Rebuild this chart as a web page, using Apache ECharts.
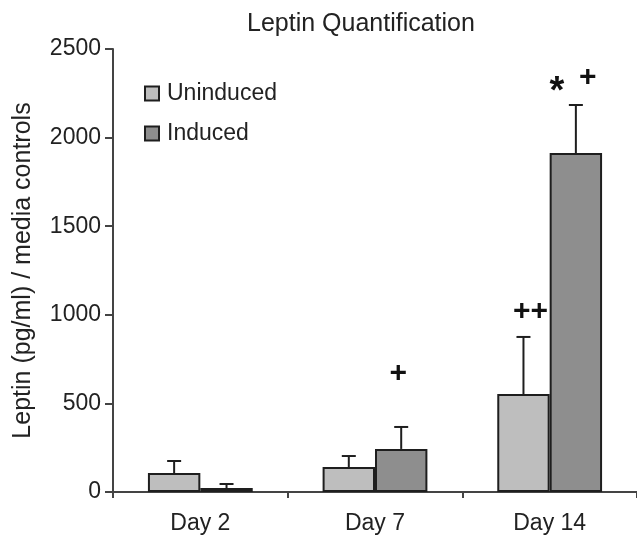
<!DOCTYPE html>
<html>
<head>
<meta charset="utf-8">
<script src="https://cdn.jsdelivr.net/npm/echarts@6/dist/echarts.min.js"></script>
<style>
  html, body { margin: 0; padding: 0; background: #fff; }
  #chart { width: 637px; height: 537px; }
</style>
</head>
<body>
<div id="chart"></div>
<script>
// data
var days = ['Day 2', 'Day 7', 'Day 14'];
var seriesNames = ['Uninduced', 'Induced'];
var uninduced = [107, 141, 553];
var induced = [22, 243, 1913];
var uninducedErr = [175, 203, 875];   // top of error bar
var inducedErr = [45, 367, 2184];
var yTicks = [0, 500, 1000, 1500, 2000, 2500];

// significance marks: text, day index, series index, value height
var markText = ['+', '++', '*', '+'];
var markDay = [1, 2, 2, 2];
var markSeries = [1, 0, 1, 1];
var markValue = [667, 1017, 2255, 2338];
var markNudge = [-3, 7, -19, 12]; // px, horizontal

var FONT = '"Liberation Sans", Arial, sans-serif';
var barW = 0.3; // fraction of category width

var errData = [];
for (var i = 0; i < days.length; i++) {
    errData.push([i, 0, uninduced[i], uninducedErr[i]]);
    errData.push([i, 1, induced[i], inducedErr[i]]);
}
var markData = [];
for (var j = 0; j < markText.length; j++) {
    markData.push([markDay[j], markSeries[j], markValue[j]]);
}

var chart = echarts.init(document.getElementById('chart'));
var option = {
    animation: false,
    backgroundColor: '#fff',
    title: {
        text: 'Leptin Quantification',
        left: 242,
        top: 7,
        textStyle: { fontFamily: FONT, fontSize: 25, fontWeight: 'normal', color: '#222' }
    },
    legend: {
        orient: 'vertical',
        left: 139,
        top: 77,
        itemWidth: 14,
        itemHeight: 14,
        itemGap: 17,
        icon: 'rect',
        data: seriesNames,
        textStyle: { fontFamily: FONT, fontSize: 23, color: '#222', padding: [0, 0, 0, 3] }
    },
    grid: { left: 113, right: 0, top: 49, bottom: 45, containLabel: false, outerBoundsMode: 'none' },
    xAxis: {
        type: 'category',
        data: days,
        axisLine: { lineStyle: { color: '#444', width: 2 } },
        axisTick: { show: true, length: 6, lineStyle: { color: '#444', width: 2 } },
        axisLabel: { fontFamily: FONT, fontSize: 23, color: '#222', margin: 20 },
        splitLine: { show: false }
    },
    yAxis: {
        type: 'value',
        min: yTicks[0],
        max: yTicks[yTicks.length - 1],
        interval: 500,
        name: 'Leptin (pg/ml) / media controls',
        nameLocation: 'middle',
        nameGap: 77,
        nameTextStyle: { fontFamily: FONT, fontSize: 25, color: '#222' },
        axisLine: { show: true, lineStyle: { color: '#444', width: 2 } },
        axisTick: { show: true, length: 8, lineStyle: { color: '#444', width: 2 } },
        axisLabel: {
            fontFamily: FONT, fontSize: 23, color: '#222', margin: 12,
            formatter: function (v) { return String(v); }
        },
        splitLine: { show: false }
    },
    series: [
        {
            name: seriesNames[0],
            type: 'bar',
            data: uninduced,
            barWidth: '30%',
            barGap: '0%',
            itemStyle: { color: '#bebebe', borderColor: '#1e1e1e', borderWidth: 2 }
        },
        {
            name: seriesNames[1],
            type: 'bar',
            data: induced,
            barWidth: '30%',
            barGap: '0%',
            itemStyle: { color: '#8e8e8e', borderColor: '#1e1e1e', borderWidth: 2 }
        },
        {
            // error bars, upper half only
            type: 'custom',
            data: errData,
            z: 5,
            renderItem: function (params, api) {
                var cat = api.value(0), s = api.value(1);
                var w = api.size([1, 0])[0] * barW;
                var top = api.coord([cat, api.value(3)]);
                var bot = api.coord([cat, api.value(2)]);
                var x = top[0] + (s === 0 ? -w / 2 : w / 2);
                var st = { stroke: '#1e1e1e', lineWidth: 2 };
                return {
                    type: 'group',
                    children: [
                        { type: 'line', shape: { x1: x, y1: bot[1], x2: x, y2: top[1] }, style: st },
                        { type: 'line', shape: { x1: x - 7, y1: top[1], x2: x + 7, y2: top[1] }, style: st }
                    ]
                };
            }
        },
        {
            // significance marks
            type: 'custom',
            data: markData,
            z: 6,
            renderItem: function (params, api) {
                var cat = api.value(0), s = api.value(1);
                var w = api.size([1, 0])[0] * barW;
                var p = api.coord([cat, api.value(2)]);
                var x = p[0] + (s === 0 ? -w / 2 : w / 2) + markNudge[params.dataIndex];
                var t = markText[params.dataIndex];
                return {
                    type: 'text',
                    style: {
                        x: x,
                        y: p[1],
                        text: t,
                        fill: '#111',
                        font: (t === '*' ? 'bold 38px ' : 'bold 30px ') + FONT,
                        align: 'center',
                        verticalAlign: 'middle'
                    }
                };
            }
        }
    ]
};
chart.setOption(option);
</script>
</body>
</html>
